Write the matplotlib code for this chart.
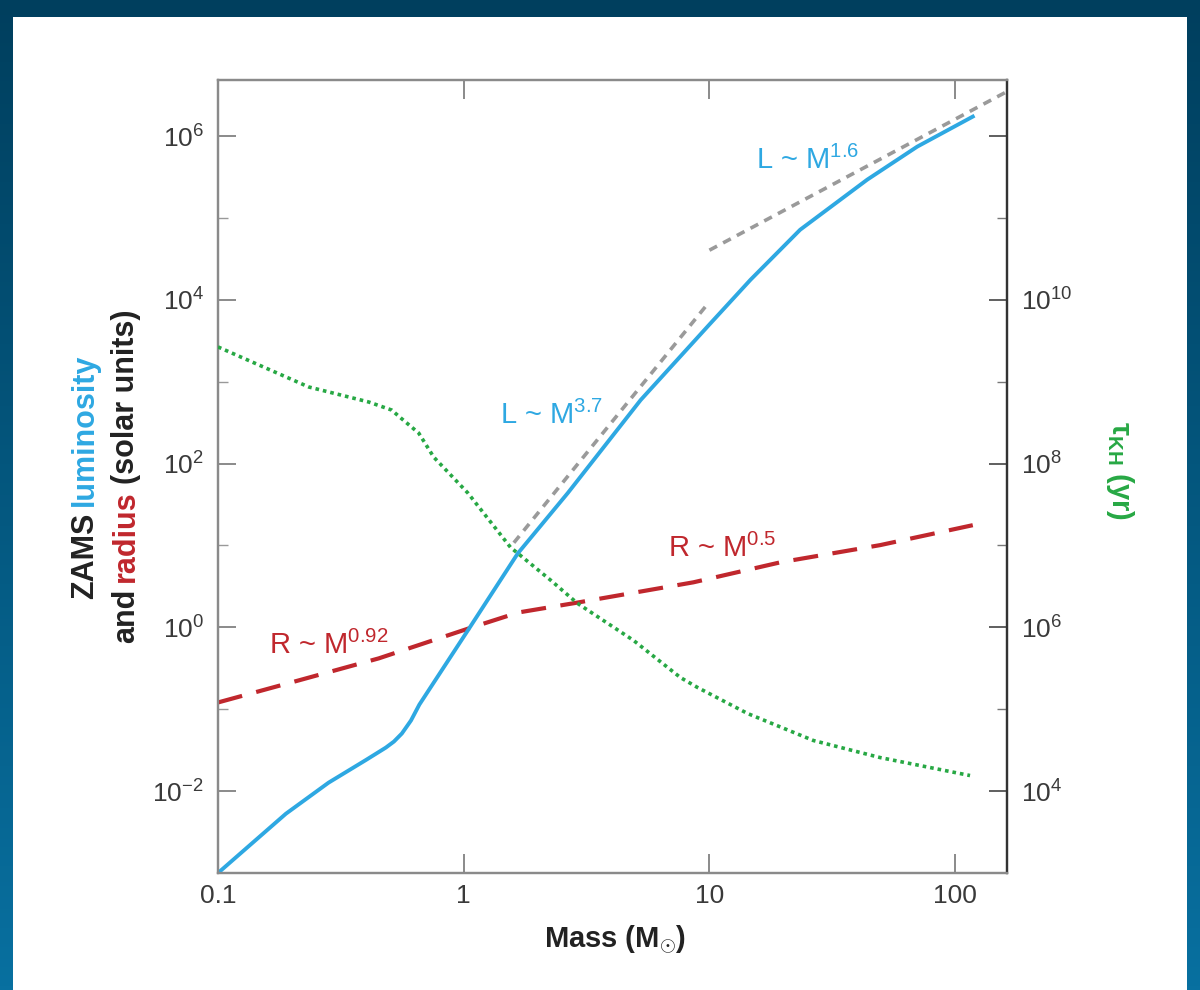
import numpy as np
import matplotlib
matplotlib.use("Agg")
import matplotlib.pyplot as plt
from matplotlib.patches import Rectangle
from matplotlib.colors import LinearSegmentedColormap
from matplotlib.ticker import FixedLocator, FixedFormatter, NullFormatter

plt.rcParams["font.family"] = ["Liberation Sans", "DejaVu Sans"]
plt.rcParams["mathtext.fontset"] = "custom"
plt.rcParams["mathtext.rm"] = "Liberation Sans"
plt.rcParams["mathtext.it"] = "Liberation Sans:italic"
plt.rcParams["mathtext.bf"] = "Liberation Sans:bold"

# ZAMS luminosity (solar units)
lum_mass = [0.1, 0.189, 0.282, 0.40, 0.482, 0.52, 0.56, 0.61, 0.66, 1.04, 1.66,
            2.65, 5.25, 10.0, 14.7, 23.4, 43.9, 70.1, 118.0]
lum_vals = [1.0e-3, 5.3e-3, 0.0127, 0.024, 0.034, 0.0403, 0.0505, 0.0728, 0.114,
            0.92, 8.0, 43.6, 598.0, 5000.0, 1.76e4, 7.18e4, 2.94e5, 7.43e5, 1.73e6]

# ZAMS radius (solar units)
rad_mass = [0.1, 0.213, 0.451, 1.08, 1.67, 2.80, 8.61, 19.5, 49.5, 118.0]
rad_vals = [0.121, 0.225, 0.418, 1.0, 1.52, 1.97, 3.55, 6.24, 10.1, 17.7]

# Kelvin-Helmholtz time (yr)
kh_mass = [0.1, 0.234, 0.411, 0.509, 0.555, 0.656, 0.755, 1.04, 1.55, 2.26,
           2.90, 4.91, 7.62, 8.93, 14.3, 26.5, 49.5, 115.0]
kh_vals = [2.66e9, 8.63e8, 5.65e8, 4.51e8, 3.60e8, 2.36e8, 1.20e8, 4.37e7, 9.5e6,
           3.76e6, 1.97e6, 6.93e5, 2.44e5, 1.85e5, 8.87e4, 4.15e4, 2.57e4, 1.55e4]

# power-law guide lines
fit_low_mass = [1.6, 9.8]
fit_low_lum = [10.8, 8800.0]
fit_high_mass = [10.0, 165.0]
fit_high_lum = [4.04e4, 3.58e6]

x_ticks = [0.1, 1, 10, 100]
x_labels = ["0.1", "1", "10", "100"]
left_ticks = [1e-2, 1e0, 1e2, 1e4, 1e6]
left_labels = ["$10^{-2}$", "$10^{0}$", "$10^{2}$", "$10^{4}$", "$10^{6}$"]
right_ticks = [1e4, 1e6, 1e8, 1e10, 1e12]
right_labels = ["$10^{4}$", "$10^{6}$", "$10^{8}$", "$10^{10}$", ""]

BLUE = "#2ea8e2"
RED = "#c0272d"
GREEN = "#27a844"
GRAY = "#9a9a9a"
TXT = "#3a3a3a"

fig = plt.figure(figsize=(12, 9.9), dpi=100)
W, H = 1200.0, 990.0

# dark blue frame with white panel
bg = fig.add_axes([0, 0, 1, 1])
bg.axis("off")
grad = np.linspace(0, 1, 256).reshape(-1, 1)
cmap = LinearSegmentedColormap.from_list("edge", ["#003f5e", "#0870a0"])
bg.imshow(grad, cmap=cmap, aspect="auto", extent=[0, 1, 0, 1], origin="upper")
bg.add_patch(Rectangle((13 / W, 0), (1187 - 13) / W, (990 - 17) / H,
                       facecolor="white", edgecolor="none"))
bg.set_xlim(0, 1)
bg.set_ylim(0, 1)

ax = fig.add_axes([218 / W, 117 / H, 789 / W, 793 / H])
ax.set_xscale("log")
ax.set_yscale("log")
ax.set_xlim(0.1, 162.6)
ax.set_ylim(1e-3, 10 ** 6.685)

ax.plot(fit_low_mass, fit_low_lum, color=GRAY, lw=2.6, ls=(0, (2.4, 1.9)), zorder=2)
ax.plot(fit_high_mass, fit_high_lum, color=GRAY, lw=2.6, ls=(0, (2.4, 1.9)), zorder=2)
ax.plot(rad_mass, rad_vals, color=RED, lw=3.0, ls=(0, (6, 3.5)), zorder=3)
ax.plot(lum_mass, lum_vals, color=BLUE, lw=2.8, zorder=4, solid_joinstyle="round")

ax2 = ax.twinx()
ax2.set_yscale("log")
ax2.set_ylim(1e3, 10 ** 12.685)
ax2.plot(kh_mass, kh_vals, color=GREEN, lw=2.6, ls=(0, (1, 1.1)), zorder=3)

# ticks
ax.xaxis.set_major_locator(FixedLocator(x_ticks))
ax.xaxis.set_major_formatter(FixedFormatter(x_labels))
ax.xaxis.set_minor_locator(FixedLocator([]))
ax.yaxis.set_major_locator(FixedLocator(left_ticks))
ax.yaxis.set_major_formatter(FixedFormatter(left_labels))
ax.yaxis.set_minor_locator(FixedLocator([1e-1, 1e1, 1e3, 1e5]))
ax.yaxis.set_minor_formatter(NullFormatter())
ax.tick_params(axis="x", which="major", direction="in", top=True, length=14,
               width=1.2, color="#777777", labelsize=19, labelcolor=TXT, pad=8)
ax.tick_params(axis="y", which="major", direction="in", length=13, width=1.2,
               color="#777777", labelsize=19, labelcolor=TXT, pad=10, right=False)
ax.tick_params(axis="y", which="minor", direction="in", length=7, width=1.0,
               color="#999999", right=False)

ax2.yaxis.set_major_locator(FixedLocator(right_ticks))
ax2.yaxis.set_major_formatter(FixedFormatter(right_labels))
ax2.yaxis.set_minor_locator(FixedLocator([1e5, 1e7, 1e9, 1e11]))
ax2.yaxis.set_minor_formatter(NullFormatter())
ax2.tick_params(axis="y", which="major", direction="in", length=13, width=1.2,
                color="#444444", labelsize=19, labelcolor=TXT, pad=10)
ax2.tick_params(axis="y", which="minor", direction="in", length=7, width=1.0,
                color="#777777")

for a in (ax, ax2):
    for side in ("left", "top", "bottom"):
        a.spines[side].set_color("#8a8a8a")
        a.spines[side].set_linewidth(1.6)
    a.spines["right"].set_color("#333333")
    a.spines["right"].set_linewidth(1.6)

# annotations
ax.text(1.41, 390, "L ~ M$^{3.7}$", color=BLUE, fontsize=21, va="center", ha="left")
ax.text(15.5, 5.1e5, "L ~ M$^{1.6}$", color=BLUE, fontsize=21, va="center", ha="left")
ax.text(6.8, 9.2, "R ~ M$^{0.5}$", color=RED, fontsize=21, va="center", ha="left")
ax.text(0.161, 0.60, "R ~ M$^{0.92}$", color=RED, fontsize=21, va="center", ha="left")

# axis labels
fig.text(615 / W, 1 - 940 / H, r"Mass (M$_{\mathbf{\odot}}$)", fontsize=21,
         fontweight="bold", color="#222222", ha="center", va="center")
fig.text(1120 / W, 1 - 471 / H, r"τ$_{\mathbf{KH}}$ (yr)", fontsize=21,
         fontweight="bold", color=GREEN, ha="center", va="center", rotation=270)

renderer = fig.canvas.get_renderer()


def stacked_label(xpix, ycenter, parts, size):
    texts = []
    for s, c in parts:
        t = fig.text(xpix / W, 0, s, color=c, fontsize=size, fontweight="bold",
                     rotation=90, ha="center", va="bottom")
        texts.append(t)
    heights = [t.get_window_extent(renderer).height for t in texts]
    gap = size * 0.3
    total = sum(heights) + gap * (len(texts) - 1)
    y = (H - ycenter) - total / 2
    for t, h in zip(texts, heights):
        t.set_y(y / H)
        y += h + gap


stacked_label(85, 476, [("ZAMS", "#222222"), ("luminosity", BLUE)], 22)
stacked_label(126, 476, [("and", "#222222"), ("radius", RED), ("(solar units)", "#222222")], 22)

fig.savefig("out.png", dpi=100)
